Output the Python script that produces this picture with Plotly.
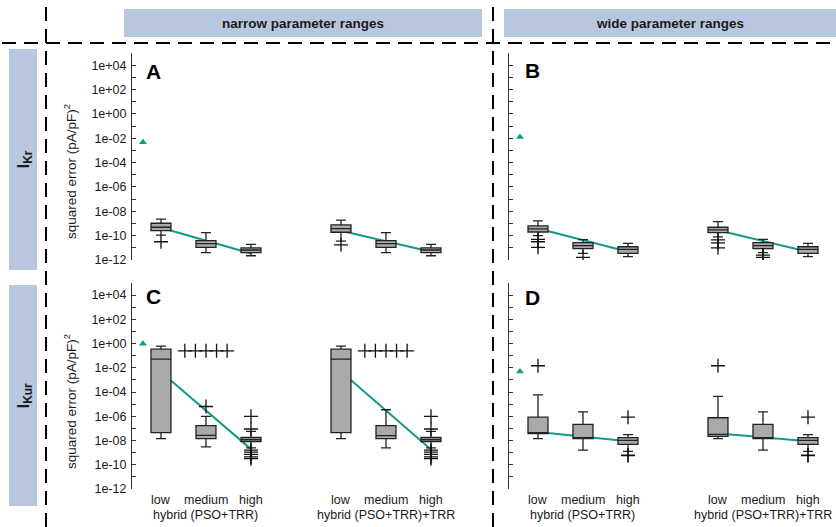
import numpy as np
import plotly.graph_objects as go

W, H = 836, 527

levels = ["low", "medium", "high"]
methods = ["hybrid (PSO+TRR)", "hybrid (PSO+TRR)+TRR"]
currents = ["I<sub>Kr</sub>", "I<sub>Kur</sub>"]
range_labels = ["narrow parameter ranges", "wide parameter ranges"]
panel_letters = ["A", "B", "C", "D"]

# log10 of squared error; order: method1 low/medium/high, method2 low/medium/high
A_q1 = [-9.59, -10.96, -11.40, -9.72, -10.96, -11.40]
A_med = [-9.31, -10.66, -11.18, -9.43, -10.66, -11.18]
A_q3 = [-8.98, -10.41, -11.01, -9.12, -10.41, -11.01]
A_lo = [-9.95, -11.40, -11.65, -10.45, -11.40, -11.65]
A_hi = [-8.65, -9.75, -10.71, -8.73, -9.75, -10.71]
A_out = [[-10.5], [], [], [-10.75], [], []]
A_fit = [-9.35, -10.41, -11.47, -9.60, -10.45, -11.32]
A_ref = -2.32

B_q1 = [-9.70, -11.07, -11.45, -9.75, -11.07, -11.45]
B_med = [-9.45, -10.82, -11.12, -9.53, -10.82, -11.12]
B_q3 = [-9.20, -10.58, -10.91, -9.31, -10.58, -10.91]
B_lo = [-10.0, -11.45, -11.73, -10.1, -11.40, -11.73]
B_hi = [-8.79, -10.33, -10.63, -8.85, -10.30, -10.63]
B_out = [[-10.3, -10.5, -10.96], [-11.78], [], [-10.35, -10.6, -11.0], [-11.6, -11.78], []]
B_fit = [-9.42, -10.38, -11.33, -9.56, -10.44, -11.32]
B_ref = -1.90

C_q1 = [-7.35, -7.84, -8.08, -7.35, -7.84, -8.08]
C_med = [-1.28, -7.57, -7.92, -1.28, -7.59, -7.92]
C_q3 = [-0.46, -6.77, -7.75, -0.46, -6.77, -7.75]
C_lo = [-7.84, -8.53, -8.60, -7.84, -8.61, -8.60]
C_hi = [-0.21, -6.01, -7.25, -0.21, -5.46, -7.25]
C_out = [[], [-5.19], [-6.0, -7.05, -8.8, -8.95, -9.15, -9.35, -9.5],
         [], [], [-6.0, -7.05, -8.8, -8.95, -9.15, -9.35, -9.5]]
C_fit = [-2.35, -5.53, -8.71, -2.30, -5.52, -8.74]
C_ref = -0.02
# spread row of outliers of the "medium" boxes in panel C
C_row_val = [-0.60, -0.60, -0.60, -0.60, -0.60]

D_q1 = [-7.43, -7.84, -8.31, -7.65, -7.84, -8.31]
D_med = [-7.38, -7.76, -7.98, -7.49, -7.76, -7.98]
D_q3 = [-6.07, -6.67, -7.76, -6.12, -6.67, -7.76]
D_lo = [-7.84, -8.80, -8.90, -7.84, -8.80, -8.90]
D_hi = [-4.23, -5.63, -7.51, -4.35, -5.63, -7.51]
D_out = [[-1.83], [], [-6.07, -9.2, -9.25], [-1.83], [], [-6.07, -9.2, -9.25]]
D_fit = [-7.29, -7.67, -8.05, -7.41, -7.73, -8.05]
D_ref = -2.30

panels = [
    dict(q1=A_q1, med=A_med, q3=A_q3, lo=A_lo, hi=A_hi, out=A_out, fit=A_fit, ref=A_ref),
    dict(q1=B_q1, med=B_med, q3=B_q3, lo=B_lo, hi=B_hi, out=B_out, fit=B_fit, ref=B_ref),
    dict(q1=C_q1, med=C_med, q3=C_q3, lo=C_lo, hi=C_hi, out=C_out, fit=C_fit, ref=C_ref),
    dict(q1=D_q1, med=D_med, q3=D_q3, lo=D_lo, hi=D_hi, out=D_out, fit=D_fit, ref=D_ref),
]

# ---- layout geometry (pixels) ----
FONT = "Liberation Sans, Arial, Helvetica, sans-serif"
TEAL = "#149a8b"
BOXFILL = "#a9a9a9"
HEADFILL = "#b9c6e0"
px_x = [(132, 459), (509, 836), (132, 459), (509, 836)]
px_y = [(53, 260), (53, 260), (283, 489), (283, 489)]
XR = [0.356, 0.356 + 327 / 45.0]
YR = [-12, 5]

def fx(p):
    return p / W

def fy(p):
    return 1 - p / H

pos = [i + 1 + 4 * g for g in range(2) for i in range(3)]

fig = go.Figure()
layout = dict(
    width=W, height=H, margin=dict(l=0, r=0, t=0, b=0, pad=0, autoexpand=False),
    paper_bgcolor="white", plot_bgcolor="rgba(0,0,0,0)",
    showlegend=False, font=dict(family=FONT, size=12, color="#1a1a1a"),
)

major_exp = list(range(-12, 5, 2))
minor_exp = list(range(-11, 6, 2))

for p, d in enumerate(panels, start=1):
    xa, ya, yo = f"x{p}", f"y{p}", f"y{p + 4}"
    (x0, x1), (y0, y1) = px_x[p - 1], px_y[p - 1]
    left = p in (1, 3)
    layout[f"xaxis{p}"] = dict(domain=[fx(x0), fx(x1)], range=XR, visible=False,
                               anchor=ya, fixedrange=True)
    layout[f"yaxis{p}"] = dict(domain=[fy(y1), fy(y0)], type="log", range=YR, anchor=xa,
                               showline=True, linecolor="#333", linewidth=1,
                               ticks="inside", ticklen=4, tickcolor="#333", tickwidth=1,
                               tickmode="array",
                               tickvals=[10.0 ** k for k in major_exp],
                               ticktext=[f"1e{k:+03d}" for k in major_exp],
                               showticklabels=left,
                               minor=dict(tickmode="array", tickvals=[10.0 ** k for k in minor_exp],
                                          ticks="inside", ticklen=4, tickcolor="#333",
                                          tickwidth=1, showgrid=False),
                               tickfont=dict(size=12.5, family=FONT, color="#1a1a1a"),
                               ticklabelstandoff=2,
                               showgrid=False, zeroline=False)
    layout[f"yaxis{p + 4}"] = dict(domain=[fy(y1), fy(y0)], type="log", range=YR, anchor=xa,
                                   overlaying=ya, visible=False, showgrid=False)

    # green trend lines (drawn underneath the boxes)
    for g in range(2):
        fig.add_trace(go.Scatter(
            x=pos[3 * g:3 * g + 3], y=[10.0 ** v for v in d["fit"][3 * g:3 * g + 3]],
            mode="lines", line=dict(color=TEAL, width=2), xaxis=xa, yaxis=ya,
            hoverinfo="skip"))

    # boxes
    fig.add_trace(go.Box(
        x=pos, q1=[10.0 ** v for v in d["q1"]], median=[10.0 ** v for v in d["med"]],
        q3=[10.0 ** v for v in d["q3"]], lowerfence=[10.0 ** v for v in d["lo"]],
        upperfence=[10.0 ** v for v in d["hi"]], width=0.444, whiskerwidth=0.5,
        fillcolor=BOXFILL, line=dict(color="#222", width=1.3), boxpoints=False,
        xaxis=xa, yaxis=yo))

    # outliers
    ox, oy = [], []
    for i, vals in enumerate(d["out"]):
        for v in vals:
            ox.append(pos[i])
            oy.append(10.0 ** v)
    if p == 3:
        spread = np.linspace(-0.47, 0.47, len(C_row_val))
        for g in range(2):
            for s, v in zip(spread, C_row_val):
                ox.append(pos[3 * g + 1] + s)
                oy.append(10.0 ** v)
    fig.add_trace(go.Scatter(
        x=ox, y=oy, mode="markers", xaxis=xa, yaxis=yo,
        marker=dict(symbol="cross-thin", size=10, color="#111",
                    line=dict(color="#111", width=1.3))))

    # reference triangle
    fig.add_trace(go.Scatter(
        x=[0.6], y=[10.0 ** d["ref"]], mode="markers", xaxis=xa, yaxis=yo,
        marker=dict(symbol="triangle-up", size=7, color=TEAL)))

annotations = []
shapes = []

# header boxes
for (bx0, bx1), tx, txt in zip([(124, 482), (504, 836)], (303, 670), range_labels):
    shapes.append(dict(type="rect", xref="paper", yref="paper", x0=fx(bx0), x1=fx(bx1),
                       y0=fy(37), y1=fy(9), fillcolor=HEADFILL, line=dict(width=0), layer="below"))
    annotations.append(dict(text=f"<b>{txt}</b>", x=fx(tx),
                            y=fy(23), xref="paper", yref="paper", showarrow=False,
                            xanchor="center", yanchor="middle", font=dict(size=13.5, family=FONT)))

# side boxes
for (by0, by1), txt in zip([(49, 270), (285, 506)], currents):
    shapes.append(dict(type="rect", xref="paper", yref="paper", x0=fx(9), x1=fx(37),
                       y0=fy(by1), y1=fy(by0), fillcolor=HEADFILL, line=dict(width=0), layer="below"))
    annotations.append(dict(text=f"<b>{txt}</b>", x=fx(24), y=fy((by0 + by1) / 2),
                            xref="paper", yref="paper", showarrow=False, textangle=-90,
                            xanchor="center", yanchor="middle", font=dict(size=17, family=FONT)))

# dashed separators
dash = "14px,8px"
shapes.append(dict(type="line", xref="paper", yref="paper", x0=fx(2), x1=1, y0=fy(43), y1=fy(43),
                   line=dict(color="black", width=2, dash=dash)))
for vx in (46, 493):
    shapes.append(dict(type="line", xref="paper", yref="paper", x0=fx(vx), x1=fx(vx), y0=0, y1=1,
                       line=dict(color="black", width=2, dash=dash)))

# panel letters
for p, (lx, ly) in zip(range(4), [(153, 71), (532, 70), (153, 296), (532, 297)]):
    annotations.append(dict(text=f"<b>{panel_letters[p]}</b>", x=fx(lx), y=fy(ly), xref="paper",
                            yref="paper", showarrow=False, xanchor="center", yanchor="middle",
                            font=dict(size=21, family=FONT, color="black")))

# y-axis titles
for ty in (172, 402):
    annotations.append(dict(text="squared error (pA/pF)<sup>2</sup>", x=fx(70), y=fy(ty),
                            xref="paper", yref="paper", showarrow=False, textangle=-90,
                            xanchor="center", yanchor="middle", font=dict(size=13.5, family=FONT)))

# category labels under bottom panels
for p in (3, 4):
    for g in range(2):
        for i, lv in enumerate(levels):
            annotations.append(dict(text=lv, x=pos[3 * g + i], y=fy(500), xref=f"x{p}", yref="paper",
                                    showarrow=False, xanchor="center", yanchor="middle",
                                    font=dict(size=12.5, family=FONT)))
        annotations.append(dict(text=methods[g], x=pos[3 * g + 1], y=fy(515), xref=f"x{p}",
                                yref="paper", showarrow=False, xanchor="center", yanchor="middle",
                                font=dict(size=12.5, family=FONT)))

layout["annotations"] = annotations
layout["shapes"] = shapes
fig.update_layout(**layout)
fig.write_html("out.html")
